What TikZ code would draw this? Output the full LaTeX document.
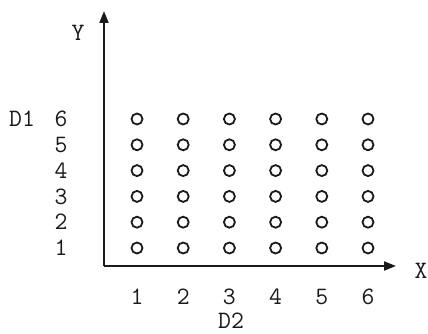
\documentclass[tikz,border=0pt]{standalone}
\usetikzlibrary{arrows.meta, positioning}
\definecolor{ink}{HTML}{1A1A1A}
\tikzset{
  font=\ttfamily\fontsize{25}{25}\selectfont,
  >={Triangle[length=12pt, width=9pt]},
  %
  axis/.style={draw=ink, line width=2pt, ->},
  dot/.style={circle, draw=ink, line width=1.8pt, minimum size=11pt, inner sep=0pt},
  lbl/.style={text=ink, inner sep=1pt},
}
\begin{document}
\begin{tikzpicture}[x=1pt, y=-1pt]
  \useasboundingbox (0,0) rectangle (428,334);

  \coordinate (origin) at (104,266);
  \coordinate (ytip)   at (104,11);
  \coordinate (xtip)   at (396,266);

  \draw[axis] (origin) -- (ytip);
  \draw[axis] (origin) -- (xtip);

  \node[lbl] (ylab) at (78,33)  {Y};
  \node[lbl] (xlab) at (421,271) {X};
  \node[lbl] (d1)   at (22,119) {D1};
  \node[lbl] (d2)   at (231,321) {D2};

  % grid of outcomes
  \foreach \i in {1,...,6} {
    \node[lbl] (xn\i) at ({137+46.2*(\i-1)},297) {\i};
    \node[lbl] (yn\i) at (61,{248-25.8*(\i-1)}) {\i};
    \foreach \j in {1,...,6}
      \node[dot] (p\i\j) at ({137+46.2*(\i-1)},{248-25.8*(\j-1)}) {};
  }

\end{tikzpicture}
\end{document}
